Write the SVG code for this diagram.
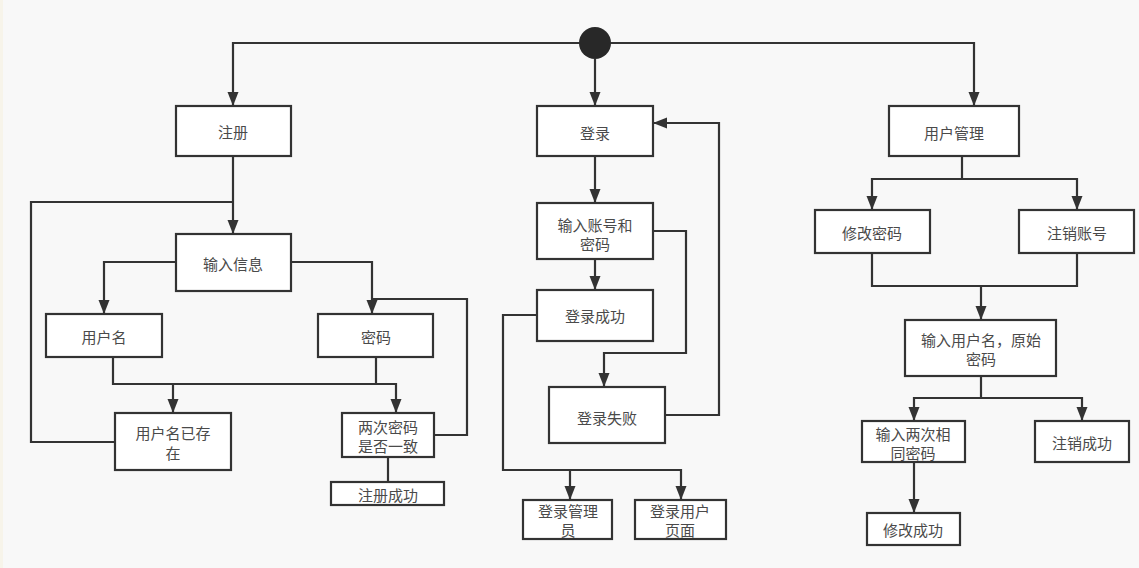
<svg xmlns="http://www.w3.org/2000/svg" width="1139" height="568" viewBox="0 0 1139 568">
<style>
.box{fill:#fff;stroke:#333;stroke-width:2.2}
.ln{fill:none;stroke:#333;stroke-width:2.2}
.ar{marker-end:url(#ah)}
text{font-family:"Noto Sans CJK SC","Noto Sans",sans-serif;font-size:15px;fill:#4a4a4a;text-anchor:middle;dominant-baseline:central}
</style>
<defs>
<marker id="ah" markerUnits="userSpaceOnUse" markerWidth="14" markerHeight="12" refX="14" refY="6" orient="auto" viewBox="0 0 14 12">
<path d="M0,0.5 L14,6 L0,11.5 z" fill="#333"/>
</marker>
</defs>
<rect x="0" y="0" width="1139" height="568" fill="#f8f8f8"/>
<rect x="0" y="0" width="3" height="568" fill="#f7f4ea"/>
<g id="connectors">
<path class="ln ar" d="M595,59 V106"/>
<path class="ln ar" d="M579,43 H233 V106"/>
<path class="ln ar" d="M611,43 H974 V106"/>
<path class="ln ar" d="M233,156 V234"/>
<path class="ln" d="M233,202 H31 V442 H115"/>
<path class="ln ar" d="M176,262 H104 V314"/>
<path class="ln ar" d="M291,262 H372 V314"/>
<path class="ln" d="M434,435 H467 V299 H372"/>
<path class="ln ar" d="M113,357 V384 H173 V413"/>
<path class="ln" d="M173,384 H376"/>
<path class="ln ar" d="M376,357 V384 H396 V413"/>
<path class="ln" d="M388,457 V482"/>
<path class="ln ar" d="M595,156 V203"/>
<path class="ln ar" d="M595,259 V290"/>
<path class="ln ar" d="M653,231 H686 V353 H604 V387"/>
<path class="ln ar" d="M665,415 H719 V123 H653"/>
<path class="ln ar" d="M537,315 H503 V470 H570 V500"/>
<path class="ln ar" d="M570,470 H681 V500"/>
<path class="ln" d="M962,156 V179"/>
<path class="ln ar" d="M962,179 H872 V210"/>
<path class="ln ar" d="M962,179 H1077 V210"/>
<path class="ln" d="M872,253 V286 H1077 V253"/>
<path class="ln ar" d="M981,286 V320"/>
<path class="ln" d="M981,376 V398"/>
<path class="ln ar" d="M981,398 H914 V421"/>
<path class="ln ar" d="M981,398 H1082 V421"/>
<path class="ln ar" d="M914,462 V513"/>
</g>
<g id="start"><circle cx="595" cy="43" r="16" fill="#282828"/></g>
<g id="n-zhuce"><rect class="box" x="176" y="106" width="115" height="50"/><text x="233" y="131">注册</text></g>
<g id="n-denglu"><rect class="box" x="537" y="106" width="116" height="50"/><text x="595" y="132">登录</text></g>
<g id="n-yhgl"><rect class="box" x="889" y="106" width="130" height="50"/><text x="954" y="132">用户管理</text></g>
<g id="n-srxx"><rect class="box" x="176" y="234" width="115" height="57"/><text x="233" y="263">输入信息</text></g>
<g id="n-yhm"><rect class="box" x="46" y="314" width="116" height="43"/><text x="104" y="336">用户名</text></g>
<g id="n-mm"><rect class="box" x="318" y="314" width="115" height="43"/><text x="376" y="336">密码</text></g>
<g id="n-yhmycz"><rect class="box" x="115" y="413" width="116" height="57"/><text x="173" y="432">用户名已存</text><text x="173" y="452">在</text></g>
<g id="n-lcmm"><rect class="box" x="342" y="413" width="92" height="44"/><text x="388" y="426">两次密码</text><text x="388" y="445">是否一致</text></g>
<g id="n-zccg"><rect class="box" x="331" y="482" width="113" height="23"/><text x="388" y="494">注册成功</text></g>
<g id="n-srzh"><rect class="box" x="537" y="203" width="116" height="56"/><text x="595" y="224">输入账号和</text><text x="595" y="243">密码</text></g>
<g id="n-dlcg"><rect class="box" x="537" y="290" width="116" height="51"/><text x="595" y="315">登录成功</text></g>
<g id="n-dlsb"><rect class="box" x="549" y="387" width="116" height="56"/><text x="607" y="417">登录失败</text></g>
<g id="n-dlgly"><rect class="box" x="523" y="500" width="89" height="39"/><text x="568" y="510">登录管理</text><text x="568" y="529">员</text></g>
<g id="n-dlyh"><rect class="box" x="635" y="500" width="91" height="39"/><text x="680" y="510">登录用户</text><text x="680" y="529">页面</text></g>
<g id="n-xgmm"><rect class="box" x="815" y="210" width="115" height="43"/><text x="872" y="232">修改密码</text></g>
<g id="n-zxzh"><rect class="box" x="1019" y="210" width="115" height="43"/><text x="1077" y="232">注销账号</text></g>
<g id="n-sryhm"><rect class="box" x="905" y="320" width="151" height="56"/><text x="981" y="339">输入用户名，原始</text><text x="981" y="358">密码</text></g>
<g id="n-srlc"><rect class="box" x="862" y="421" width="103" height="41"/><text x="913" y="433">输入两次相</text><text x="913" y="452">同密码</text></g>
<g id="n-zxcg"><rect class="box" x="1035" y="421" width="94" height="41"/><text x="1082" y="442">注销成功</text></g>
<g id="n-xgcg"><rect class="box" x="867" y="513" width="93" height="32"/><text x="913" y="529">修改成功</text></g>
</svg>
